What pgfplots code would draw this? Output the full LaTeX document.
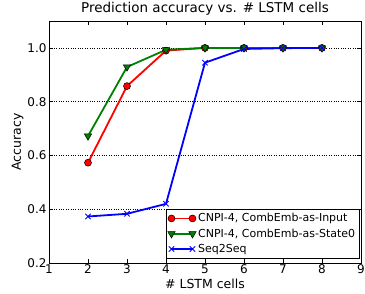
\documentclass[border=0pt]{standalone}
\usepackage{pgfplots}
\pgfplotsset{compat=1.18}
\usepackage{fontspec}
\setmainfont{DejaVu Sans}
\definecolor{mgreen}{rgb}{0,0.5,0}
\begin{document}
\begin{tikzpicture}[x=1bp,y=1bp]
\useasboundingbox (-49bp,-31bp) rectangle (316bp,263bp);
\begin{axis}[
  at={(0,0)}, anchor=south west,
  scale only axis, width=312bp, height=242bp,
  xmin=1, xmax=9, ymin=0.2, ymax=1.1,
  xtick={1,...,9}, ytick={0.2,0.4,0.6,0.8,1.0},
  yticklabel style={/pgf/number format/fixed, /pgf/number format/fixed zerofill, /pgf/number format/precision=1, xshift=1bp},
  /pgf/number format/assume math mode=true,
  tick align=inside, tick pos=both,
  major tick length=4bp,
  ymajorgrids, grid style={black, dotted, line width=0.5pt},
  axis line style={black, line width=0.8pt},
  tick style={black, line width=0.6pt},
  ticklabel style={font=\fontsize{12bp}{14bp}\selectfont},
  xticklabel style={yshift=2bp},
  title={Prediction accuracy vs. \# LSTM cells},
  title style={font=\fontsize{13.5bp}{15bp}\selectfont, yshift=-4bp},
  xlabel={\# LSTM cells}, ylabel={Accuracy},
  label style={font=\fontsize{12.5bp}{14bp}\selectfont},
  xlabel style={yshift=1bp}, ylabel style={yshift=-3bp},
  legend style={font=\fontsize{11bp}{13bp}\selectfont, draw=black, line width=0.6pt, inner sep=2pt, row sep=1.5bp, at={(0.995,0.02)}, anchor=south east, legend cell align=left},
  legend image code/.code={\draw plot coordinates {(0bp,0bp) (21bp,0bp)};},
]
\addplot[red, line width=1.8pt, mark=*, mark size=3.5bp, mark options={fill=red, draw=black, line width=0.5pt}]
  coordinates {(2,0.573) (3,0.858) (4,0.990) (5,1.0) (6,1.0) (7,1.0) (8,1.0)};
\addlegendentry{CNPI-4, CombEmb-as-Input}
\addplot[mgreen, line width=1.8pt, mark=triangle*, mark size=4.2bp, mark options={rotate=180, fill=mgreen, draw=black, line width=0.5pt}]
  coordinates {(2,0.672) (3,0.929) (4,0.993) (5,1.0) (6,1.0) (7,1.0) (8,1.0)};
\addlegendentry{CNPI-4, CombEmb-as-State0}
\addplot[blue, line width=1.8pt, mark=x, mark size=3.8bp, mark options={blue, line width=0.9pt}]
  coordinates {(2,0.373) (3,0.383) (4,0.420) (5,0.945) (6,0.996) (7,0.999) (8,1.0)};
\addlegendentry{Seq2Seq}
\end{axis}
\end{tikzpicture}
\end{document}
